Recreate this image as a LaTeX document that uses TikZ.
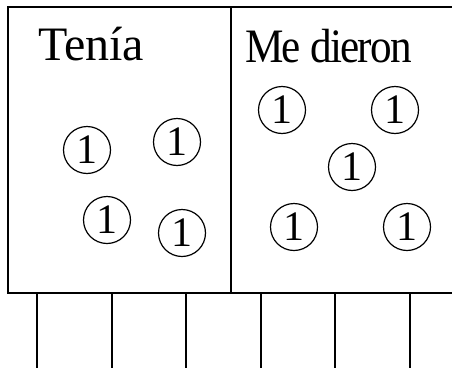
\documentclass[tikz,border=0pt]{standalone}
\usepackage{fontspec}
\setmainfont{Liberation Serif}
\begin{document}
\begin{tikzpicture}[x=1pt,y=-1pt,
  frame/.style={line width=1.8pt,line cap=rect},
  tick/.style={line width=1.8pt},
  coin/.style={circle,draw,line width=1.2pt,minimum size=47pt,inner sep=0pt,font=\fontsize{42}{44}\selectfont},
  title/.style={anchor=base west,inner sep=0pt,font=\fontsize{48}{50}\selectfont}]
\useasboundingbox (0,0) rectangle (452,367);
\draw[frame] (460,7) -- (8,7) -- (8,293) -- (460,293);
\draw[frame] (231,7) -- (231,293);
\foreach \x in {37,112,186,261,335,410}{
  \draw[tick] (\x,293) -- (\x,370);
}
\node[title] (t1) at (38,60) {Tenía};
\node[title] (t2) at (245,62) {\scalebox{0.9}[1]{\addfontfeatures{LetterSpace=-4}Me dieron}};
\node[coin] (a1) at (87,150) {1};
\node[coin] (a2) at (177,142) {1};
\node[coin] (a3) at (107,220) {1};
\node[coin] (a4) at (182,233) {1};
\node[coin] (b1) at (282,110) {1};
\node[coin] (b2) at (395,110) {1};
\node[coin] (b3) at (352,167) {1};
\node[coin] (b4) at (294,227) {1};
\node[coin] (b5) at (407,227) {1};
\end{tikzpicture}
\end{document}
